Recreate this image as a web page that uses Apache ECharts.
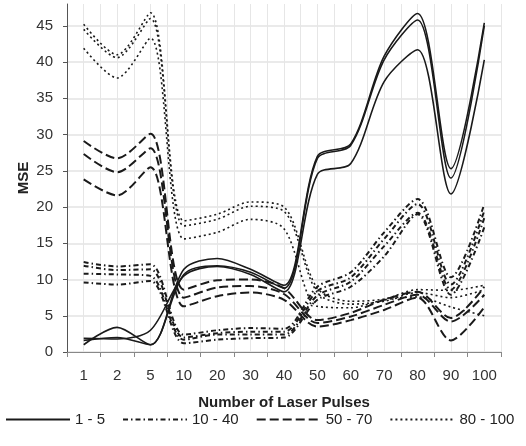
<!DOCTYPE html>
<html>
<head>
<meta charset="utf-8">
<script src="https://cdn.jsdelivr.net/npm/echarts@6/dist/echarts.min.js"></script>
<style>
  html, body { margin: 0; padding: 0; background: #fff; }
  #chart { width: 526px; height: 446px; }
</style>
</head>
<body>
<div id="chart"></div>
<script>
const categories = ['1', '2', '5', '10', '20', '30', '40', '50', '60', '70', '80', '90', '100']

// 1 - 5 (solid)
const solid1 = [1.6, 2.0, 1.0, 11.4, 12.9, 11.4, 9.2, 27.0, 28.7, 40.8, 46.7, 25.3, 45.4]
const solid2 = [1.0, 3.4, 1.0, 10.7, 11.9, 11.0, 8.8, 26.7, 28.5, 40.3, 45.8, 24.0, 45.0]
const solid3 = [1.9, 1.8, 3.0, 10.5, 11.8, 10.7, 8.3, 24.5, 26.0, 37.3, 41.7, 21.8, 40.3]

// 10 - 40 (dash dot)
const dashDot1 = [12.4, 11.8, 12.1, 2.4, 3.0, 3.3, 3.2, 9.0, 11.0, 16.5, 21.1, 10.3, 20.4]
const dashDot2 = [11.9, 11.3, 11.4, 2.0, 2.6, 2.8, 2.8, 8.4, 10.3, 15.6, 20.4, 9.3, 19.5]
const dashDot3 = [10.8, 10.7, 10.5, 1.7, 2.4, 2.4, 2.4, 7.8, 9.7, 14.6, 19.2, 8.6, 18.5]
const dashDot4 = [9.6, 9.3, 9.8, 1.2, 1.7, 1.9, 2.0, 7.2, 9.0, 13.2, 19.0, 7.9, 17.2]

// 50 - 70 (long dash)
const longDash1 = [29.1, 26.7, 30.1, 8.6, 9.9, 10.0, 8.8, 4.4, 5.4, 7.2, 8.3, 4.7, 9.0]
const longDash2 = [27.3, 24.8, 28.1, 7.5, 8.9, 9.1, 8.0, 4.0, 4.9, 6.5, 7.9, 4.2, 7.9]
const longDash3 = [23.8, 21.6, 25.5, 6.3, 7.7, 8.2, 7.2, 3.5, 4.4, 5.8, 7.5, 1.6, 6.2]

// 80 - 100 (dotted)
const dotted1 = [45.2, 41.0, 46.8, 18.1, 19.0, 20.7, 20.0, 8.8, 7.0, 7.3, 8.6, 8.5, 9.2]
const dotted2 = [44.5, 40.6, 46.0, 17.4, 18.3, 20.1, 19.4, 8.2, 6.6, 7.0, 8.2, 7.5, 8.6]
const dotted3 = [41.9, 37.8, 43.3, 15.6, 16.5, 18.3, 17.0, 6.3, 6.1, 7.2, 7.6, 6.2, 5.0]

const groups = [
  { name: '1 - 5', dash: 'solid', width: 1.6, lines: [solid1, solid2, solid3] },
  { name: '10 - 40', dash: [5, 3, 1.5, 3], width: 2, lines: [dashDot1, dashDot2, dashDot3, dashDot4] },
  { name: '50 - 70', dash: [9, 4], width: 2, lines: [longDash1, longDash2, longDash3] },
  { name: '80 - 100', dash: [2, 3], width: 1.6, lines: [dotted1, dotted2, dotted3] }
]

const series = []
groups.forEach(g => {
  g.lines.forEach(values => {
    series.push({
      name: g.name,
      type: 'line',
      data: values,
      smooth: 0.3,
      symbol: 'none',
      silent: true,
      itemStyle: { color: '#1a1a1a' },
      lineStyle: { color: '#1a1a1a', width: g.width, type: g.dash }
    })
  })
})

const font = 'Liberation Sans, Arial, sans-serif'
const chart = echarts.init(document.getElementById('chart'))
chart.setOption({
  animation: false,
  textStyle: { fontFamily: font },
  grid: { left: 67, right: 25, top: 4, bottom: 94 },
  legend: {
    left: 0,
    top: 407,
    itemWidth: 64,
    itemHeight: 10,
    itemGap: 17,
    itemStyle: { opacity: 0 },
    data: groups.map(g => g.name),
    textStyle: { fontSize: 15, color: '#222', fontFamily: font }
  },
  xAxis: [
    {
      type: 'category',
      data: categories,
      boundaryGap: true,
      name: 'Number of Laser Pulses',
      nameLocation: 'middle',
      nameGap: 43,
      nameTextStyle: { fontSize: 15, fontWeight: 'bold', color: '#222', fontFamily: font },
      axisLine: { lineStyle: { color: '#888', width: 1 } },
      axisTick: { show: true, length: 5, lineStyle: { color: '#888' } },
      axisLabel: { fontSize: 15, color: '#333', margin: 16, interval: 0 },
      splitLine: { show: false }
    },
    {
      type: 'value',
      min: 0,
      max: 26,
      interval: 1,
      show: true,
      axisLine: { show: false },
      axisTick: { show: false },
      axisLabel: { show: false },
      splitLine: { show: true, lineStyle: { color: '#e6e6e6', width: 1 } }
    }
  ],
  yAxis: {
    type: 'value',
    min: 0,
    max: 48,
    interval: 5,
    name: 'MSE',
    nameLocation: 'middle',
    nameGap: 36,
    nameMoveOverlap: false,
    nameTextStyle: { fontSize: 15, fontWeight: 'bold', color: '#222', fontFamily: font },
    axisLine: { show: true, lineStyle: { color: '#555', width: 1 } },
    axisTick: { show: true, length: 4, lineStyle: { color: '#555' } },
    axisLabel: {
      fontSize: 15,
      color: '#333',
      margin: 14,
      showMaxLabel: false,
      formatter: v => (v % 5 === 0 ? String(v) : '')
    },
    splitLine: { show: true, showMaxLine: false, lineStyle: { color: '#e3e3e3', width: 1.5 } }
  },
  series: series
})
</script>
</body>
</html>
